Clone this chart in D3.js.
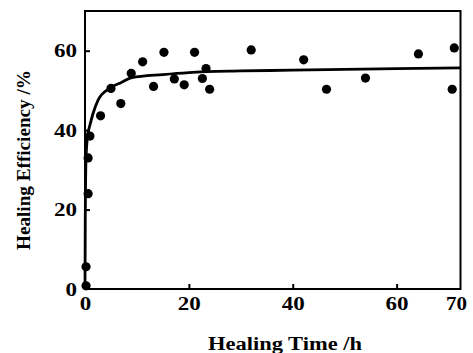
<!DOCTYPE html>
<html><head><meta charset="utf-8">
<script src="https://cdn.jsdelivr.net/npm/d3@7"></script>
<style>
html,body{margin:0;padding:0;background:#fff;}
text{font-family:"Liberation Serif","Times New Roman",serif;font-weight:bold;fill:#000;}
</style></head>
<body><svg id="c" width="473" height="353"></svg>
<script>
// measured points
const timeH = [0.2, 0.2, 0.6, 0.6, 0.95, 3.0, 5.0, 6.9, 8.9, 11.1, 13.2, 15.2, 17.2, 19.1, 21.1, 22.6, 23.3, 24.0, 32.0, 42.1, 46.5, 54.0, 64.2, 70.7, 71.1];
const efficiency = [0.8, 5.6, 24.0, 33.0, 38.5, 43.6, 50.5, 46.7, 54.3, 57.2, 51.0, 59.6, 52.9, 51.4, 59.6, 53.0, 55.5, 50.3, 60.2, 57.7, 50.3, 53.1, 59.2, 50.3, 60.7];
// fitted curve
const fitTime = [0, 0.05, 0.2, 0.5, 1, 1.5, 2.5, 4.7, 7, 9, 15, 20, 30, 40, 50, 60, 72.3];
const fitEff  = [0, 17, 33, 38.5, 41.5, 44, 47.5, 50.5, 52, 53.2, 54, 54.5, 54.9, 55.1, 55.3, 55.5, 55.7];
const xTicks = [0, 20, 40, 60];
const xEndLabel = "70";
const yTicks = [0, 20, 40, 60];
const xTitle = "Healing Time /h";
const yTitle = "Healing Efficiency /%";

const L = 85, T = 11, R = 460.5, B = 289;
const svg = d3.select("#c");
const x = d3.scaleLinear().domain([0, 72.3]).range([L, R]);
const y = d3.scaleLinear().domain([0, 70]).range([B, T]);

// frame
svg.append("rect").attr("x", L).attr("y", T).attr("width", R - L).attr("height", B - T)
  .attr("fill", "none").attr("stroke", "#000").attr("stroke-width", 2);

// axes
const xa = svg.append("g").attr("transform", `translate(0,${B})`)
  .call(d3.axisBottom(x).tickValues(xTicks).tickSizeInner(-5).tickSizeOuter(0).tickPadding(12).tickFormat(d3.format("d")));
const ya = svg.append("g").attr("transform", `translate(${L},0)`)
  .call(d3.axisLeft(y).tickValues(yTicks).tickSizeInner(-5).tickSizeOuter(0).tickPadding(12).tickFormat(d3.format("d")));
[xa, ya].forEach(g => {
  g.select(".domain").remove();
  g.selectAll("line").attr("stroke", "#000").attr("stroke-width", 2);
  g.selectAll("text").style("font-size", "19px").style("font-family", "Liberation Serif").style("font-weight", "bold")
    .attr("textLength", d => String(d).length * 11.5).attr("lengthAdjust", "spacingAndGlyphs");
});
xa.selectAll("text").attr("dy", "0.71em").attr("y", 8);
ya.selectAll("text").attr("x", -8);
xa.selectAll("g.tick").filter(d => d === 0).select("line").remove();
ya.selectAll("g.tick").filter(d => d === 0).select("line").remove();
// end label
svg.append("text").attr("x", x(72.3) - 4).attr("y", B + 8).attr("dy", "0.71em")
  .attr("text-anchor", "middle").style("font-size", "19px")
  .attr("textLength", 21).attr("lengthAdjust", "spacingAndGlyphs").text(xEndLabel);

// fit curve
const line = d3.line().x((d, i) => x(fitTime[i])).y((d, i) => y(fitEff[i])).curve(d3.curveMonotoneX);
svg.append("path").datum(fitEff).attr("d", line).attr("fill", "none")
  .attr("stroke", "#000").attr("stroke-width", 2.8);

// points
svg.append("g").selectAll("circle").data(efficiency).join("circle")
  .attr("cx", (d, i) => x(timeH[i])).attr("cy", d => y(d)).attr("r", 4.6).attr("fill", "#000");

// titles
svg.append("text").attr("x", 285).attr("y", 350).attr("text-anchor", "middle")
  .style("font-size", "18px").attr("textLength", 154).attr("lengthAdjust", "spacingAndGlyphs").text(xTitle);
svg.append("text").attr("transform", "translate(30,160) rotate(-90)").attr("text-anchor", "middle")
  .style("font-size", "18px").attr("textLength", 180).attr("lengthAdjust", "spacingAndGlyphs").text(yTitle);
</script></body></html>
